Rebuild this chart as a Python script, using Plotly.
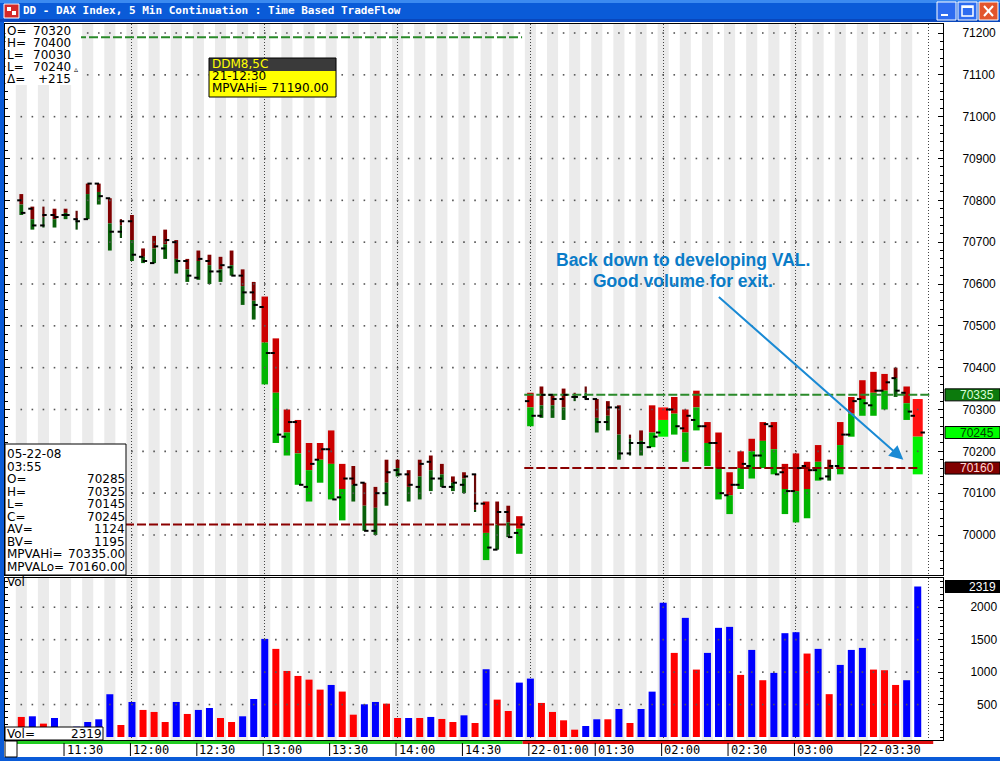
import plotly.graph_objects as go

W, H = 1000, 761

# ---------------- data ----------------
time_labels = ["11:30", "12:00", "12:30", "13:00", "13:30", "14:00", "14:30",
               "22-01:00", "01:30", "02:00", "02:30", "03:00", "22-03:30"]
label_slots = [4, 10, 16, 22, 28, 34, 40, 46, 52, 58, 64, 70, 76]
hour_slots = [10, 22, 34, 46, 58, 70, 82]

opens = [70800, 70780, 70740, 70765, 70765, 70755, 70755, 70840, 70805, 70725,
         70750, 70665, 70650, 70685, 70700, 70655, 70615, 70655, 70630, 70640,
         70620, 70580, 70545, 70435, 70235, 70270, 70115, 70180, 70205, 70090,
         70135, 70125, 70010, 70100, 70155, 70145, 70115, 70175, 70135, 70115,
         70120, 70145, 70075, 69965, 70055, 70005, 70320, 70285, 70335, 70325,
         70330, 70330, 70325, 70270, 70305, 70195, 70220, 70210, 70245, 70300,
         70255, 70275, 70260, 70220, 70095, 70120, 70165, 70190, 70260, 70150,
         70105, 70165, 70155, 70140, 70165, 70240, 70325, 70310, 70345, 70375,
         70340, 70285]
highs = [70815, 70785, 70785, 70780, 70780, 70775, 70840, 70840, 70805, 70755,
         70765, 70685, 70715, 70730, 70705, 70660, 70680, 70670, 70665, 70680,
         70635, 70605, 70570, 70470, 70300, 70275, 70220, 70220, 70250, 70170,
         70165, 70125, 70115, 70180, 70180, 70155, 70180, 70190, 70170, 70140,
         70150, 70145, 70080, 70080, 70070, 70045, 70340, 70355, 70335, 70350,
         70340, 70355, 70325, 70320, 70310, 70240, 70250, 70310, 70305, 70330,
         70300, 70345, 70270, 70245, 70150, 70200, 70230, 70270, 70270, 70170,
         70195, 70175, 70215, 70180, 70270, 70330, 70370, 70390, 70385, 70400,
         70355, 70325]
lows = [70765, 70730, 70735, 70735, 70755, 70730, 70755, 70790, 70680, 70710,
        70655, 70650, 70650, 70660, 70625, 70605, 70610, 70600, 70605, 70620,
        70550, 70515, 70360, 70220, 70190, 70120, 70080, 70125, 70085, 70035,
        70080, 70010, 70000, 70070, 70140, 70080, 70085, 70105, 70115, 70105,
        70100, 70055, 69940, 69965, 69995, 69955, 70260, 70280, 70280, 70275,
        70320, 70325, 70245, 70250, 70180, 70190, 70190, 70210, 70235, 70240,
        70175, 70250, 70165, 70085, 70050, 70110, 70135, 70160, 70145, 70050,
        70030, 70040, 70130, 70130, 70145, 70235, 70285, 70285, 70300, 70330,
        70275, 70145]
closes = [70770, 70740, 70765, 70760, 70765, 70750, 70840, 70810, 70725, 70750,
          70670, 70655, 70690, 70705, 70655, 70620, 70660, 70630, 70645, 70620,
          70580, 70550, 70435, 70240, 70270, 70120, 70170, 70205, 70085, 70135,
          70120, 70010, 70100, 70150, 70145, 70120, 70170, 70135, 70115, 70125,
          70140, 70075, 69970, 70055, 69995, 70025, 70285, 70335, 70325, 70335,
          70330, 70325, 70270, 70305, 70195, 70220, 70220, 70235, 70300, 70260,
          70285, 70260, 70220, 70100, 70120, 70170, 70190, 70265, 70145, 70105,
          70160, 70155, 70135, 70165, 70240, 70320, 70315, 70345, 70365, 70345,
          70295, 70245]
# price where selling flow (red, above) meets buying flow (green, below)
splits = [70790, 70755, 70760, 70755, 70770, 70755, 70815, 70820, 70745, 70740,
          70705, 70665, 70685, 70695, 70660, 70635, 70655, 70645, 70635, 70645,
          70595, 70560, 70460, 70340, 70245, 70195, 70155, 70180, 70170, 70110,
          70120, 70070, 70065, 70125, 70160, 70115, 70140, 70155, 70145, 70125,
          70135, 70060, 70005, 70025, 70030, 70015, 70305, 70310, 70310, 70305,
          70330, 70340, 70280, 70285, 70240, 70230, 70225, 70245, 70275, 70290,
          70245, 70305, 70220, 70160, 70095, 70160, 70200, 70225, 70205, 70110,
          70105, 70110, 70175, 70160, 70215, 70290, 70325, 70340, 70345, 70375,
          70315, 70235]
# flow intensity class of each bar (0 very light ... 3 heavy)
intensity = [int(c) for c in
             "1101101110" "1111111111" "1122222222" "1111111111" "1021122111"
             "0011101232" "2222222222" "2221222221" "23"]
volume = [309, 319, 206, 293, 120, 159, 231, 273, 659, 185,
          540, 417, 386, 231, 540, 355, 417, 447, 293, 231,
          319, 586, 1512, 1358, 1018, 941, 884, 730, 802, 700,
          344, 504, 540, 514, 293, 293, 293, 309, 278, 231,
          334, 216, 1044, 576, 401, 838, 900, 525, 386, 257,
          113, 170, 273, 273, 432, 216, 432, 699, 2068, 1296,
          1836, 1039, 1296, 1682, 1697, 957, 1342, 875, 988, 1600,
          1615, 1286, 1358, 660, 1111, 1342, 1373, 1039, 1029, 802,
          875, 2319]
vol_side = list("dududuuuud" "uddduduudd" "uuudddddud" "duuddududd" "ududduuddd"
                "duududuuud" "uduuududuu" "ududuuuddd" "uu")

sessions = [(0, 45), (46, 81)]
mpva_hi = [71190, 70335]
mpva_lo = [70025, 70160]
ask_vol, bid_vol = 1124, 1195
last_date, last_time = "05-22-08", "03:55"
session_summary = [("O=", "70320"), ("H=", "70400"), ("L=", "70030"), ("L=", "70240"), ("\u0394=", "+215")]
box_title, box_time = "DDM8,5C", "21-12:30"
title = "DD - DAX Index, 5 Min Continuation : Time Based TradeFlow"
note_lines = ["Back down to developing VAL.", "Good volume for exit."]

# ---------------- geometry helpers ----------------
def px(x):
    return x / W

def py(y):
    return 1 - y / H

slots = list(range(len(opens)))
X_L, X_R = 5, 943
P_T, P_B = 24, 575
V_T, V_B = 578, 740
s0, sw = 21.3, 11.067          # pixel centre of slot 0, pixels per slot
xr = [(X_L - s0) / sw, (X_R - s0) / sw]
pp = 0.41833                   # px per price point
price_range = [70000 - (P_B - 535) / pp, 70000 + (535 - P_T) / pp]
vp = 0.06489                   # px per volume unit
v0 = 737
vol_range = [-(V_B - v0) / vp, (v0 - V_T) / vp]

tier_w = [2.2, 3.8, 6.5, 10.0]
red_c = ['#6a0808', '#800000', '#cc0000', '#ff1010']
grn_c = ['#0b4a0b', '#0a600a', '#00b400', '#00f000']

fig = go.Figure()

# dotted price / volume grid
price_levels = list(range(70000, 71201, 100))
gx, gy = [], []
for lv in price_levels:
    for i in slots:
        gx.append(i); gy.append(lv)
fig.add_trace(go.Scatter(x=gx, y=gy, mode='markers', hoverinfo='skip',
                         marker=dict(symbol='square', size=1.6, color='#555555'),
                         xaxis='x', yaxis='y'))
vol_levels = [500, 1000, 1500, 2000]
vx, vy = [], []
for lv in vol_levels:
    for i in slots:
        vx.append(i); vy.append(lv)
fig.add_trace(go.Scatter(x=vx, y=vy, mode='markers', hoverinfo='skip',
                         marker=dict(symbol='square', size=1.6, color='#555555'),
                         xaxis='x2', yaxis='y2'))

# value-area lines
for k, (a, b) in enumerate(sessions):
    x0 = xr[0] if k == 0 else a - 0.55
    x1_hi = b + 0.25 if k == 0 else b + 1.25
    x1_lo = b + 0.25 if k == 0 else b
    fig.add_trace(go.Scatter(x=[x0, x1_hi], y=[mpva_hi[k]] * 2, mode='lines', hoverinfo='skip',
                             line=dict(color='#2a8a2a', width=2, dash='9px,3px'),
                             xaxis='x', yaxis='y'))
    fig.add_trace(go.Scatter(x=[x0, x1_lo], y=[mpva_lo[k]] * 2, mode='lines', hoverinfo='skip',
                             line=dict(color='#8b0000', width=2, dash='9px,3px'),
                             xaxis='x', yaxis='y'))

# tradeflow bars
bw = [tier_w[t] / sw for t in intensity]
fig.add_trace(go.Bar(x=slots, y=[h - s for h, s in zip(highs, splits)], base=splits, width=bw,
                     marker=dict(color=[red_c[t] for t in intensity], line=dict(width=0)),
                     xaxis='x', yaxis='y', hoverinfo='skip'))
fig.add_trace(go.Bar(x=slots, y=[s - l for s, l in zip(splits, lows)], base=lows, width=bw,
                     marker=dict(color=[grn_c[t] for t in intensity], line=dict(width=0)),
                     xaxis='x', yaxis='y', hoverinfo='skip'))

# open / close ticks
d = 2.2 / sw
ox, oy, cx, cy = [], [], [], []
for i in slots:
    hw = bw[i] / 2
    ox += [i - hw - d, i - hw + d, None]
    oy += [opens[i], opens[i], None]
    cx += [i + hw - d, i + hw + d, None]
    cy += [closes[i], closes[i], None]
fig.add_trace(go.Scatter(x=ox + cx, y=oy + cy, mode='lines', hoverinfo='skip',
                         line=dict(color='black', width=2), xaxis='x', yaxis='y'))

# volume bars
fig.add_trace(go.Bar(x=slots, y=volume, width=7.0 / sw,
                     marker=dict(color=['#0000ff' if s == 'u' else '#ff0000' for s in vol_side],
                                 line=dict(width=0)),
                     xaxis='x2', yaxis='y2', hoverinfo='skip'))

shapes = []
# alternating slot stripes
for i in slots:
    if i % 2 == 0:
        for xa, ya in (('x', 'y domain'), ('x2', 'y2 domain')):
            shapes.append(dict(type='rect', xref=xa, yref=ya, x0=i - 0.5, x1=i + 0.5, y0=0, y1=1,
                               fillcolor='#ebebeb', line=dict(width=0), layer='below'))

def prect(x0, y0, x1, y1, fill=None, line=None, lw=1, layer='above'):
    return dict(type='rect', xref='paper', yref='paper', x0=px(x0), x1=px(x1), y0=py(y1), y1=py(y0),
                fillcolor=fill if fill else 'rgba(0,0,0,0)',
                line=dict(color=line if line else 'rgba(0,0,0,0)', width=lw if line else 0), layer=layer)

def pline(x0, y0, x1, y1, color, w=1):
    return dict(type='line', xref='paper', yref='paper', x0=px(x0), x1=px(x1), y0=py(y0), y1=py(y1),
                line=dict(color=color, width=w), layer='above')

# window chrome
shapes.append(prect(0, 0, 1000, 22, fill='#0a5bd8'))
shapes.append(prect(0, 0, 1000, 3, fill='#3b8af0'))
shapes.append(prect(0, 19, 1000, 22, fill='#0846bc'))
shapes.append(prect(0, 22, 4, 761, fill='#0a5bd8'))
shapes.append(prect(0, 757, 1000, 761, fill='#0a5bd8'))
# icon
shapes.append(prect(4, 4, 19, 18, fill='#d42a2a', line='#ffffff', lw=1))
shapes.append(prect(7, 7, 11, 11, fill='#ffffff'))
shapes.append(prect(12, 11, 16, 15, fill='#ffffff'))
# window buttons
shapes.append(prect(937, 2, 956, 20, fill='#2d6cf0', line='#ffffff', lw=1))
shapes.append(prect(941, 14, 948, 16, fill='#ffffff'))
shapes.append(prect(958, 2, 977, 20, fill='#2d6cf0', line='#ffffff', lw=1))
shapes.append(prect(962, 6, 973, 16, line='#ffffff', lw=1.5))
shapes.append(prect(962, 6, 973, 8, fill='#ffffff'))
shapes.append(prect(979, 2, 998, 20, fill='#e2552c', line='#ffffff', lw=1))
shapes.append(pline(984, 6, 993, 16, '#ffffff', 2))
shapes.append(pline(993, 6, 984, 16, '#ffffff', 2))

# top-left session summary background
shapes.append(prect(5.5, 24.5, 81, 85, fill='#ffffff'))
# yellow data box
shapes.append(prect(209, 58, 336, 71, fill='#3a3a3a'))
shapes.append(prect(209, 71, 336, 97, fill='#ffff00'))
shapes.append(prect(209, 58, 336, 97, line='#000000', lw=1))
# bottom-left bar data box
shapes.append(prect(5, 444, 126, 575, fill='#ffffff', line='#000000', lw=1))
# Vol= box
shapes.append(prect(5, 727, 103, 740, fill='#ffffff', line='#000000', lw=1))
# bottom session strip and scroll box
a0, b0 = sessions[0]
a1, b1 = sessions[1]
shapes.append(dict(type='rect', xref='x2', yref='paper', x0=a0 - 0.4, x1=b0 + 0.3,
                   y0=py(744), y1=py(741), fillcolor='#22cc22', line=dict(width=0), layer='above'))
shapes.append(dict(type='rect', xref='x2', yref='paper', x0=b0 + 0.3, x1=b1 + 1.4,
                   y0=py(744), y1=py(741), fillcolor='#e01010', line=dict(width=0), layer='above'))
shapes.append(prect(5, 741, 17, 757, fill='#ffffff', line='#000000', lw=1))
# time-axis ticks
for s in label_slots:
    shapes.append(dict(type='line', xref='x2', yref='paper', x0=s - 0.14, x1=s - 0.14,
                       y0=py(743), y1=py(756), line=dict(color='black', width=1), layer='above'))

# right-axis value flags
flags = [(mpva_hi[1], '#0c7a0c', '#d8ffd8'), (closes[-1], '#00ff00', '#004000'),
         (mpva_lo[1], '#800000', '#ffd8d8')]
for v, bg, fg in flags:
    shapes.append(dict(type='rect', xref='paper', yref='y', x0=px(945), x1=px(1000),
                       y0=v - 6 / pp, y1=v + 6 / pp, fillcolor=bg, line=dict(color='black', width=1),
                       layer='above'))
shapes.append(dict(type='rect', xref='paper', yref='y2', x0=px(945), x1=px(1000),
                   y0=volume[-1] - 6.5 / vp, y1=volume[-1] + 6.5 / vp, fillcolor='#000000',
                   line=dict(width=0), layer='above'))

ann = []

def txt(x, y, s, size=12, color='black', anchor='left', family='DejaVu Sans', bold=False):
    return dict(xref='paper', yref='paper', x=px(x), y=py(y), text=('<b>%s</b>' % s) if bold else s,
                showarrow=False, xanchor=anchor, yanchor='middle',
                font=dict(family=family, size=size, color=color))

ann.append(txt(21, 11, title, size=11, color='white', family='DejaVu Sans Mono', bold=True))

# session summary
for k, (lab, val) in enumerate(session_summary):
    yy = 31 + 12 * k
    ann.append(txt(5, yy, lab))
    ann.append(txt(73, yy, val, anchor='right'))
ann.append(txt(72, 69, '\u25b5', size=8))

# yellow box
ann.append(txt(210, 64, box_title, color='#ffff00'))
ann.append(txt(210, 76, box_time))
ann.append(txt(210, 88, 'MPVAHi= %.2f' % mpva_hi[0]))

# bottom-left box
rows = [(last_date, ''), (last_time, ''), ('O=', str(opens[-1])), ('H=', str(highs[-1])),
        ('L=', str(lows[-1])), ('C=', str(closes[-1])), ('AV=', str(ask_vol)), ('BV=', str(bid_vol)),
        ('MPVAHi=', '%.2f' % mpva_hi[1]), ('MPVALo=', '%.2f' % mpva_lo[1])]
for k, (lab, val) in enumerate(rows):
    yy = 454 + 12.5 * k
    ann.append(txt(5, yy, lab))
    if val:
        ann.append(txt(127, yy, val, anchor='right'))

ann.append(txt(5, 582, 'Vol'))
ann.append(txt(5, 734, 'Vol='))
ann.append(txt(104, 734, str(volume[-1]), anchor='right'))

# right-axis flag labels
for v, bg, fg in flags:
    ann.append(dict(xref='paper', yref='y', x=px(996), y=v, text=str(v), showarrow=False,
                    xanchor='right', yanchor='middle', font=dict(family='Arial', size=12, color=fg)))
ann.append(dict(xref='paper', yref='y2', x=px(998), y=volume[-1], text=str(volume[-1]), showarrow=False,
                xanchor='right', yanchor='middle', font=dict(family='Arial', size=12, color='white')))

# time labels
for s, lab in zip(label_slots, time_labels):
    ann.append(dict(xref='x2', yref='paper', x=s, y=py(750), text=lab, showarrow=False,
                    xanchor='left', yanchor='middle', xshift=-1,
                    font=dict(family='DejaVu Sans Mono', size=12, color='black')))

# comment and arrow
ann.append(txt(683, 260, note_lines[0], size=17.5, color='#0a7cc8', anchor='center',
               family='Arial', bold=True))
ann.append(txt(683, 281, note_lines[1], size=17.5, color='#0a7cc8', anchor='center',
               family='Arial', bold=True))
ann.append(dict(xref='x', yref='y', x=79.7, y=70180, ax=-186, ay=-164, axref='pixel', ayref='pixel',
                text='', showarrow=True, arrowhead=2, arrowsize=1.4, arrowwidth=2, arrowcolor='#1a8ad4'))

grid_common = dict(showline=True, linecolor='black', linewidth=1, mirror=True, tickmode='array',
                   tickvals=hour_slots, showticklabels=False, ticks='', showgrid=True,
                   gridcolor='#444444', griddash='1px,2px', gridwidth=1, zeroline=False)

fig.update_layout(
    width=W, height=H, margin=dict(l=0, r=0, t=0, b=0),
    paper_bgcolor='white', plot_bgcolor='white', showlegend=False, barmode='overlay',
    shapes=shapes, annotations=ann,
    xaxis=dict(domain=[px(X_L), px(X_R)], range=xr, anchor='y', **grid_common),
    yaxis=dict(domain=[py(P_B), py(P_T)], range=price_range, anchor='x', side='right',
               tickmode='linear', tick0=70000, dtick=100, tickformat='d',
               ticks='inside', ticklen=5, tickcolor='black',
               minor=dict(ticks='inside', ticklen=3, tickcolor='black', tickmode='linear', tick0=70000,
                          dtick=20, showgrid=False),
               showline=True, linecolor='black', linewidth=1, mirror='ticks', showgrid=False,
               zeroline=False, tickfont=dict(family='Arial', size=12, color='black'),
               ticklabelstandoff=16),
    xaxis2=dict(domain=[px(X_L), px(X_R)], range=xr, anchor='y2', **grid_common),
    yaxis2=dict(domain=[py(V_B), py(V_T)], range=vol_range, anchor='x2', side='right',
                tickmode='array', tickvals=vol_levels,
                ticktext=['\u2007' + str(v) if v < 1000 else str(v) for v in vol_levels],
                ticks='inside', ticklen=5, tickcolor='black',
                minor=dict(ticks='inside', ticklen=3, tickcolor='black', tickmode='linear', tick0=0,
                           dtick=100, showgrid=False),
                showline=True, linecolor='black', linewidth=1, mirror='ticks', showgrid=False,
                zeroline=False, tickfont=dict(family='Arial', size=12, color='black'),
                ticklabelstandoff=24),
)

fig.write_html("out.html", config={'displayModeBar': False},
               post_script="document.body.style.margin='0';document.body.style.overflow='hidden';")
